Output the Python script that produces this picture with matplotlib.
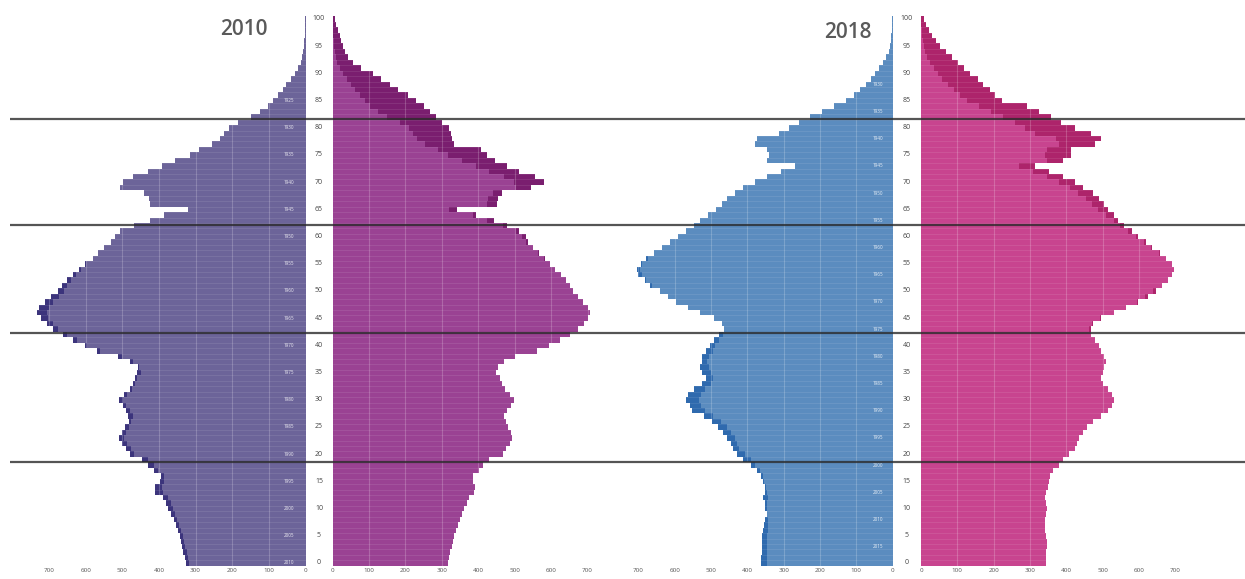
import matplotlib
matplotlib.use("Agg")
import matplotlib.pyplot as plt
import numpy as np

plt.rcParams['font.family'] = ['Open Sans', 'DejaVu Sans']

ages = list(range(0, 101))

# population in thousands, ages 0..100
male_2010 = [327, 329, 333, 338, 340, 343, 349, 354, 360, 368,
             376, 381, 390, 412, 410, 398, 395, 414, 430, 446,
             480, 490, 500, 508, 500, 492, 482, 485, 490, 498,
             508, 495, 480, 472, 465, 460, 457, 478, 511, 570,
             603, 635, 662, 689, 705, 721, 732, 727, 711, 694,
             675, 665, 650, 635, 619, 603, 581, 565, 549, 532,
             520, 505, 467, 425, 385, 320, 425, 428, 440, 505,
             498, 470, 430, 393, 356, 316, 290, 255, 232, 222,
             210, 185, 150, 125, 102, 88, 75, 62, 52, 40,
             30, 20, 13, 9, 6, 4, 3, 2, 1.2, 0.7, 0.4]
female_2010 = [318, 320, 323, 328, 331, 334, 339, 344, 350, 356,
               362, 368, 375, 388, 392, 385, 386, 402, 413, 429,
               468, 476, 487, 494, 489, 483, 476, 472, 478, 490,
               498, 488, 474, 466, 460, 450, 455, 470, 500, 560,
               595, 625, 652, 675, 690, 702, 706, 700, 688, 673,
               660, 651, 640, 626, 612, 598, 582, 566, 551, 538,
               530, 512, 480, 442, 395, 342, 452, 455, 465, 545,
               580, 555, 512, 478, 446, 423, 407, 333, 328, 326,
               320, 300, 283, 267, 250, 228, 206, 180, 158, 132,
               110, 78, 55, 42, 34, 28, 24, 20, 15, 10, 6]
male_2018 = [362, 361, 360, 360, 359, 359, 357, 355, 351, 346,
             351, 351, 357, 351, 351, 357, 362, 373, 390, 411,
             428, 439, 444, 455, 466, 482, 498, 520, 553, 558,
             569, 564, 547, 526, 515, 526, 531, 526, 526, 515,
             504, 493, 477, 464, 471, 493, 531, 564, 596, 618,
             640, 667, 683, 700, 705, 694, 678, 656, 634, 613,
             591, 569, 547, 531, 509, 487, 471, 455, 433, 411,
             379, 346, 308, 270, 346, 341, 346, 379, 373, 313,
             286, 259, 226, 194, 161, 128, 107, 90, 74, 58,
             47, 36, 25, 17, 11, 7, 5, 3, 2, 1, 0.5]
female_2018 = [345, 345, 345, 347, 347, 345, 342, 342, 342, 345,
               347, 345, 342, 345, 349, 353, 356, 364, 380, 391,
               407, 424, 429, 434, 445, 456, 473, 495, 516, 527,
               533, 527, 516, 500, 495, 500, 505, 511, 505, 495,
               489, 478, 467, 467, 473, 495, 533, 566, 598, 626,
               647, 664, 680, 691, 697, 691, 675, 658, 636, 620,
               598, 582, 560, 544, 533, 516, 505, 489, 473, 445,
               424, 391, 353, 314, 391, 413, 413, 478, 495, 467,
               424, 385, 358, 325, 293, 222, 205, 189, 172, 156,
               134, 118, 102, 85, 69, 52, 41, 31, 22, 14, 7]

years = ["2010", "2018"]
x_ticks = [0, 100, 200, 300, 400, 500, 600, 700]
age_ticks = list(range(0, 101, 5))
birth_years_2010 = list(range(1925, 2011, 5))
birth_years_2018 = list(range(1930, 2016, 5))
divider_ages = [18.6, 42.3, 62.1, 81.6]

colors = {
    "2010": dict(m="#6c6499", m_dark="#3c347c", f="#9a4293", f_dark="#7a1e6f"),
    "2018": dict(m="#5b8cbf", m_dark="#2f6aae", f="#c8448f", f_dark="#ad246b"),
}

W, H = 1245, 579
fig = plt.figure(figsize=(W / 100, H / 100), dpi=100)

age_top_px = 563 - 100.5 * 5.44
age_bot_px = 563 + 0.5 * 5.44
XMAX = 760


def px_axes(x0, x1):
    return fig.add_axes([x0 / W, (H - age_bot_px) / H, (x1 - x0) / W,
                         (age_bot_px - age_top_px) / H])


layout = {
    "2010": dict(m0=305.5, ms=0.3664, f0=332.5, fs=0.3643,
                 title_xy=(168, 98), by_x=45, births=birth_years_2010),
    "2018": dict(m0=892.5, ms=0.3629, f0=921.0, fs=0.3630,
                 title_xy=(122, 97.6), by_x=41, births=birth_years_2018),
}
data = {"2010": (male_2010, female_2010), "2018": (male_2018, female_2018)}

for yr in years:
    L = layout[yr]
    c = colors[yr]
    m, f = (np.array(v, dtype=float) for v in data[yr])
    base = np.minimum(m, f)
    axm = px_axes(L["m0"] - XMAX * L["ms"], L["m0"])
    axc = px_axes(L["m0"], L["f0"])
    axf = px_axes(L["f0"], L["f0"] + XMAX * L["fs"])
    for ax in (axm, axf):
        ax.set_ylim(-0.5, 100.5)
        for s in ax.spines.values():
            s.set_visible(False)
        ax.set_yticks([])
        ax.set_xticks(x_ticks)
        ax.tick_params(axis='x', length=0, pad=1.5, labelsize=4.5,
                       labelcolor='#555555')
    axm.set_xlim(XMAX, 0)
    axf.set_xlim(0, XMAX)
    h = 1.0
    axm.barh(ages, base, height=h, color=c["m"], linewidth=0)
    axm.barh(ages, m - base, left=base, height=h, color=c["m_dark"], linewidth=0)
    axf.barh(ages, base, height=h, color=c["f"], linewidth=0)
    axf.barh(ages, f - base, left=base, height=h, color=c["f_dark"], linewidth=0)
    for ax in (axm, axf):
        for v in x_ticks[1:]:
            ax.axvline(v, color='white', alpha=0.2, lw=0.8, zorder=3)
        for a in ages[:-1]:
            ax.axhline(a + 0.5, color='white', alpha=0.12, lw=0.5, zorder=3)
    # center age labels
    axc.set_xlim(0, 1)
    axc.set_ylim(-0.5, 100.5)
    axc.axis('off')
    for a in age_ticks:
        axc.text(0.5, a, str(a), ha='center', va='center', fontsize=5,
                 color='#444444')
    # birth-year labels inside male bars
    for by in L["births"]:
        axm.text(L["by_x"], int(yr) - by, str(by), ha='center', va='center',
                 fontsize=3.3, color='white', alpha=0.85, zorder=4)
    axm.text(L["title_xy"][0], L["title_xy"][1], yr, ha='center', va='center',
             fontsize=15, fontweight='semibold', color='#5a5a5a')

# full-width divider lines
axo = fig.add_axes([0, (H - age_bot_px) / H, 1, (age_bot_px - age_top_px) / H])
axo.set_xlim(0, W)
axo.set_ylim(-0.5, 100.5)
axo.axis('off')
axo.patch.set_visible(False)
axo.hlines(divider_ages, 10, W, color='#2a2a2a', lw=1.6, alpha=0.8, zorder=10)

fig.savefig("out.png", dpi=100)
